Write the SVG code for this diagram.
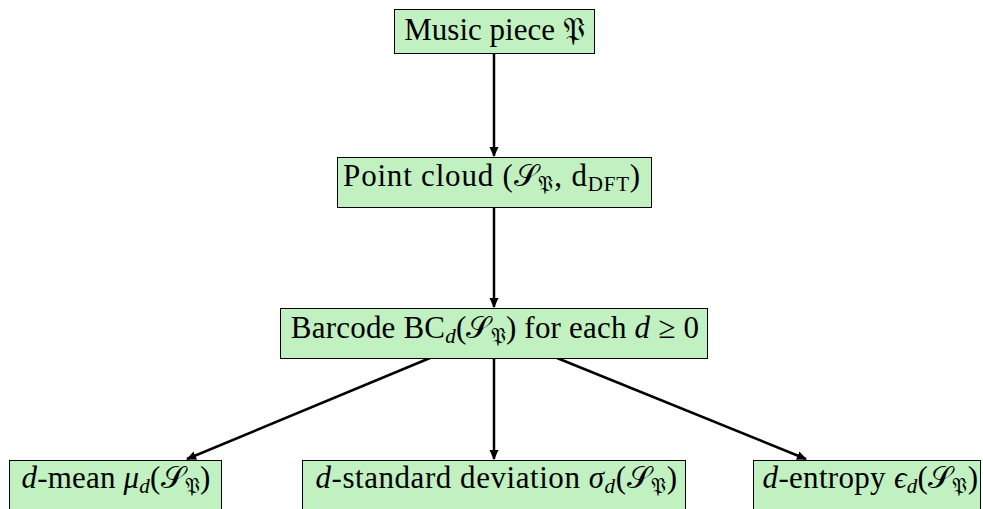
<svg xmlns="http://www.w3.org/2000/svg" width="983" height="509" viewBox="0 0 983 509">
<defs>
<marker id="ah" markerWidth="10" markerHeight="10" refX="9" refY="5" orient="auto" markerUnits="userSpaceOnUse">
<path d="M0,0.5 L10,5 L0,9.5 z" fill="#000"/>
</marker>
<style>
.box{fill:#c1f0c1;stroke:#000;stroke-width:1}
.t{font-family:"Liberation Serif",serif;font-size:31px;fill:#000;text-anchor:middle}
.i{font-style:italic}
.s{font-size:21px}
.c{stroke:#000;stroke-width:2.5;fill:none;marker-end:url(#ah)}
</style>
</defs>
<rect width="983" height="509" fill="#fff"/>
<g id="connectors">
<line class="c" x1="494" y1="53" x2="494" y2="156"/>
<line class="c" x1="494" y1="207" x2="494" y2="307"/>
<line class="c" x1="430" y1="358" x2="187" y2="459"/>
<line class="c" x1="494" y1="358" x2="494" y2="459"/>
<line class="c" x1="557" y1="358" x2="806" y2="459"/>
</g>
<g id="music">
<rect class="box" x="394.5" y="9.5" width="200" height="44"/>
<text class="t" x="494.5" y="40">Music piece 𝔓</text>
</g>
<g id="cloud">
<rect class="box" x="337.5" y="157.5" width="314" height="50"/>
<text class="t" x="492" y="186" letter-spacing="0.8">Point cloud (𝒮<tspan class="s" dy="5">𝔓</tspan><tspan dy="-5">, d</tspan><tspan class="s" dy="5">DFT</tspan><tspan dy="-5">)</tspan></text>
</g>
<g id="barcode">
<rect class="box" x="280.5" y="308.5" width="427" height="50"/>
<text class="t" x="495" y="338" letter-spacing="0.2">Barcode BC<tspan class="s i" dy="5">d</tspan><tspan dy="-5">(𝒮</tspan><tspan class="s" dy="5">𝔓</tspan><tspan dy="-5">) for each </tspan><tspan class="i">d</tspan> ≥ 0</text>
</g>
<g id="mean">
<rect class="box" x="9.5" y="460.5" width="212" height="55"/>
<text class="t" x="116" y="488" letter-spacing="0.2"><tspan class="i">d</tspan>-mean <tspan class="i">μ</tspan><tspan class="s i" dy="5">d</tspan><tspan dy="-5">(𝒮</tspan><tspan class="s" dy="5">𝔓</tspan><tspan dy="-5">)</tspan></text>
</g>
<g id="std">
<rect class="box" x="302.5" y="460.5" width="383" height="55"/>
<text class="t" x="496.5" y="488" letter-spacing="0.55"><tspan class="i">d</tspan>-standard deviation <tspan class="i">σ</tspan><tspan class="s i" dy="5">d</tspan><tspan dy="-5">(𝒮</tspan><tspan class="s" dy="5">𝔓</tspan><tspan dy="-5">)</tspan></text>
</g>
<g id="entropy">
<rect class="box" x="753.5" y="460.5" width="227" height="55"/>
<text class="t" x="870.5" y="488" letter-spacing="0.3"><tspan class="i">d</tspan>-entropy <tspan class="i">ϵ</tspan><tspan class="s i" dy="5">d</tspan><tspan dy="-5">(𝒮</tspan><tspan class="s" dy="5">𝔓</tspan><tspan dy="-5">)</tspan></text>
</g>
</svg>
